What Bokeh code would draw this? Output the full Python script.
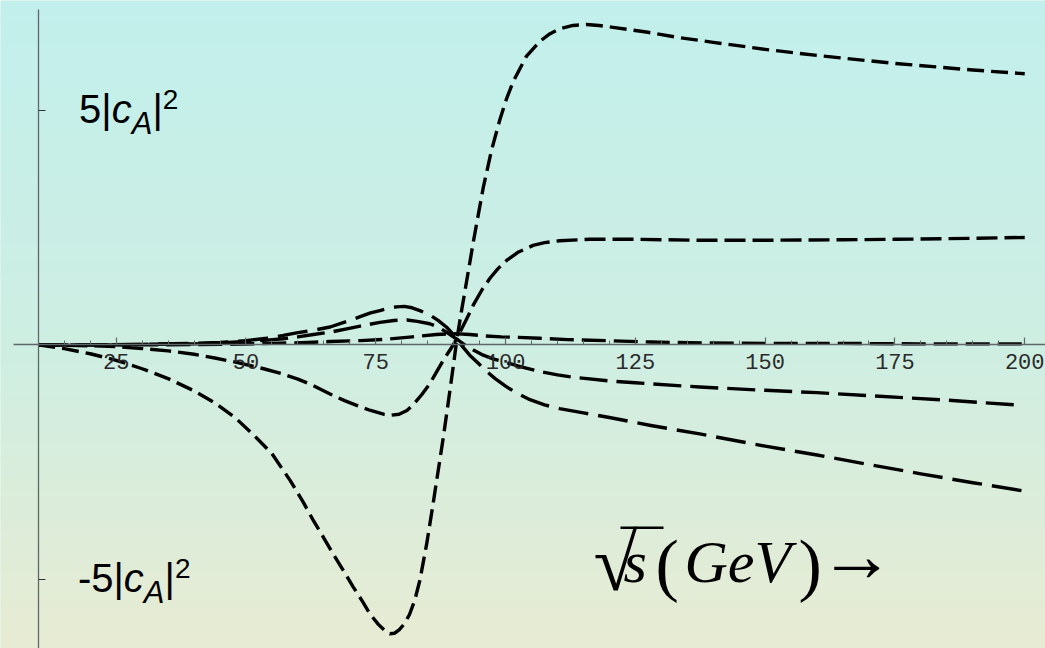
import numpy as np
from bokeh.plotting import figure
from bokeh.models import Range1d, LinearAxis, FixedTicker, Label, BoxAnnotation
from bokeh.embed import file_html
from bokeh.resources import INLINE

# ---------------------------------------------------------------------------
# Curves: value in units of |c_A|^2 against sqrt(s) in GeV
# ---------------------------------------------------------------------------
s_a = [10, 15, 20, 25, 30, 35, 40, 44, 48, 52, 55, 58.5, 61, 63, 65, 66.8, 68.8,
       70.7, 72.5, 73.9, 75.5, 76.8, 77.7, 78.6, 79.5, 80.5, 81.5, 82.5, 83.5,
       84.8, 86, 87, 88, 89, 90, 90.6, 91.4, 92.2, 93.8, 95.7, 97.3, 98.9, 100.2,
       101.5, 104, 106.6, 108.5, 110.4, 113, 115.6, 118, 120.7, 127.1, 132.9,
       140, 150, 160, 175, 190, 200]
v_a = [0, -0.08, -0.19, -0.33, -0.51, -0.72, -0.98, -1.24, -1.56, -1.98, -2.32,
       -2.89, -3.35, -3.75, -4.12, -4.46, -4.82, -5.17, -5.48, -5.74, -5.96,
       -6.1, -6.16, -6.15, -6.08, -5.95, -5.75, -5.45, -5.02, -4.25, -3.42,
       -2.7, -1.98, -1.2, -0.4, 0.1, 0.65, 1.16, 2.2, 3.35, 4.15, 4.8, 5.25,
       5.62, 6.15, 6.47, 6.63, 6.74, 6.81, 6.83, 6.81, 6.77, 6.67, 6.56, 6.45,
       6.3, 6.17, 6.0, 5.86, 5.78]

s_b = [10, 20, 25, 30, 35, 40, 44, 48, 53.4, 57, 60, 63, 66.2, 69, 71.3, 74,
       76.5, 78, 79.5, 81, 82.2, 83.8, 85.4, 86.8, 88, 89.3, 90.6, 91.5, 92.5,
       93.8, 95.5, 97, 98.5, 100.2, 102.5, 105.3, 107.5, 110.4, 116.2, 125,
       137, 150, 165, 175, 190, 200]
v_b = [0, -0.02, -0.04, -0.08, -0.13, -0.2, -0.28, -0.37, -0.51, -0.62, -0.73,
       -0.87, -1.05, -1.19, -1.29, -1.4, -1.48, -1.5, -1.48, -1.4, -1.28, -1.07,
       -0.83, -0.56, -0.33, -0.11, 0.12, 0.33, 0.55, 0.85, 1.18, 1.42, 1.62,
       1.8, 1.98, 2.12, 2.18, 2.22, 2.25, 2.25, 2.23, 2.23, 2.24, 2.25, 2.27,
       2.29]

s_c = [10, 20, 30, 40, 45, 50, 54, 57.2, 60, 63, 66.2, 69.4, 72, 74, 75.8, 77.5,
       79, 80.5, 82, 83.5, 85.4, 87, 88.6, 89.8, 90.6, 91.8, 93.1, 94.8, 96.3,
       98, 100, 102, 104.7, 107.5, 110.4, 115, 120, 128, 137.4, 150, 160, 169.4,
       180, 190, 199.5]
v_c = [0, 0, 0.01, 0.03, 0.05, 0.09, 0.14, 0.2, 0.26, 0.31, 0.38, 0.5, 0.6,
       0.68, 0.73, 0.78, 0.81, 0.82, 0.79, 0.73, 0.64, 0.52, 0.38, 0.24, 0.12,
       -0.05, -0.22, -0.4, -0.56, -0.72, -0.88, -1.02, -1.17, -1.28, -1.36,
       -1.45, -1.55, -1.72, -1.9, -2.16, -2.35, -2.54, -2.75, -2.94, -3.11]

s_d = [10, 20, 30, 40, 45, 50, 54, 57.2, 60, 63, 66.2, 69.4, 72, 75.8, 78.5, 81,
       83, 85.4, 87, 88.6, 89.8, 90.6, 92, 93.8, 95.7, 97.6, 100.2, 103, 106.6,
       110, 113, 120, 125, 137.4, 150, 160, 169.4, 185, 199.5]
v_d = [0, 0, 0.01, 0.02, 0.04, 0.07, 0.1, 0.13, 0.17, 0.22, 0.27, 0.34, 0.4,
       0.48, 0.52, 0.53, 0.5, 0.45, 0.38, 0.27, 0.18, 0.12, 0.01, -0.11, -0.22,
       -0.3, -0.38, -0.47, -0.57, -0.64, -0.69, -0.77, -0.81, -0.9, -0.97,
       -1.02, -1.08, -1.18, -1.29]

s_e = [10, 30, 45, 55, 62, 66.2, 72, 77.1, 82, 86.7, 90, 93.1, 96, 99.2, 102.5,
       106.6, 112, 119.4, 128, 138.7, 150, 165, 180, 200]
v_e = [0, 0, 0.01, 0.03, 0.05, 0.07, 0.09, 0.12, 0.17, 0.22, 0.24, 0.22, 0.19,
       0.17, 0.16, 0.14, 0.11, 0.09, 0.06, 0.04, 0.03, 0.03, 0.02, 0.02]

x_major_ticks = [25, 50, 75, 100, 125, 150, 175, 200]
x_minor_ticks = [10, 15, 20, 25, 30, 35, 40, 45, 50, 55, 60, 65, 70, 75, 80, 85,
                 90, 95, 100, 105, 110, 115, 120, 125, 130, 135, 140, 145, 150,
                 155, 160, 165, 170, 175, 180, 185, 190, 195, 200]
y_tick_values = [5, -5]
y_tick_coeffs = ["5|", "-5|"]

# ---------------------------------------------------------------------------
# Canvas geometry
# ---------------------------------------------------------------------------
W, H = 1045, 648
X0, X1 = 2.72, 204.0
Y0, Y1 = -6.475, 7.342
AXIS_X = 10          # the vertical axis crosses at sqrt(s) = 10

# distance from the alphabetic baseline to the middle of the text box, in em
MID_SANS = 0.3465
MID_SERIF = 0.3375


def px_x(px):
    return X0 + px * (X1 - X0) / W


def px_y(py):
    return Y1 - py * (Y1 - Y0) / H


p = figure(width=W, height=H, x_range=Range1d(X0, X1), y_range=Range1d(Y0, Y1),
           output_backend="svg", toolbar_location=None,
           x_axis_type=None, y_axis_type=None, min_border=0,
           outline_line_color=None)
p.background_fill_color = "#cdeee3"
p.border_fill_color = "#cdeee3"

# vertical colour wash: cyan at the top fading to pale beige at the bottom
stops = [(0.0, (194, 239, 236)), (0.53, (206, 238, 226)), (1.0, (232, 235, 211))]
n_strips = 162
fr = np.linspace(0, 1, n_strips + 1)
rgb = np.stack([np.interp(fr, [s[0] for s in stops], [s[1][k] for s in stops])
                for k in range(3)], axis=1)
tops = Y1 - fr[:-1] * (Y1 - Y0)
bots = Y1 - np.minimum(fr[1:] + 0.5 / n_strips, 1.0) * (Y1 - Y0)
cols = ["#%02x%02x%02x" % tuple(int(round(c)) for c in rgb[i]) for i in range(n_strips)]
bg = p.quad(left=X0, right=X1, top=tops, bottom=bots, fill_color=cols, line_color=None)
bg.level = "image"

# axes crossing at (10, 0)
axis_col = "#5f6868"
xaxis = LinearAxis(fixed_location=0,
                   ticker=FixedTicker(ticks=x_major_ticks, minor_ticks=x_minor_ticks),
                   bounds=(px_x(13), X1),
                   axis_line_color=axis_col, axis_line_width=1.3,
                   major_tick_in=7, major_tick_out=0, major_tick_line_color=axis_col,
                   major_tick_line_width=1.2,
                   minor_tick_in=4, minor_tick_out=0, minor_tick_line_color=axis_col,
                   minor_tick_line_width=1,
                   major_label_standoff=9,
                   major_label_text_font="Liberation Mono",
                   major_label_text_font_size="22px",
                   major_label_text_color="#2a2a2a")
p.add_layout(xaxis, "below")

yaxis = LinearAxis(fixed_location=AXIS_X,
                   ticker=FixedTicker(ticks=y_tick_values),
                   bounds=(Y0, px_y(9)),
                   axis_line_color=axis_col, axis_line_width=1.3,
                   major_tick_in=7, major_tick_out=0, major_tick_line_color="#303636",
                   major_tick_line_width=1.2,
                   minor_tick_line_color=None,
                   major_label_text_alpha=0)
p.add_layout(yaxis, "left")

# dashed curves
curves = [(s_a, v_a, "17 7"), (s_b, v_b, "21 7"), (s_c, v_c, "30 10"),
          (s_d, v_d, "28 9"), (s_e, v_e, "24 8")]
for sx, vy, dash in curves:
    p.line(sx, vy, line_color="black", line_width=3.4, line_dash=dash,
           line_cap="butt", line_join="round")

# y tick labels: k|c_A|^2 written to the right of the axis
adv = {"5": 0.556, "-": 0.333, "|": 0.26, "c": 0.5, "A": 0.667, "2": 0.556}
MAIN, SUB, SUP = 40, 31, 28
for val, coeff in zip(y_tick_values, y_tick_coeffs):
    x_start = 78.5 if not coeff.startswith("-") else 77.3
    # (text, size, style, baseline below the tick in px)
    pieces = [(coeff, MAIN, "normal", 13),
              ("c", MAIN, "italic", 13),
              ("A", SUB, "italic", 24),
              ("|", MAIN, "normal", 13),
              ("2", SUP, "normal", -1)]
    cur = x_start - 37.7
    for txt, size, style, drop in pieces:
        p.add_layout(Label(x=AXIS_X, y=val, x_offset=cur,
                           y_offset=-(drop - MID_SANS * size), text=txt,
                           text_font="Liberation Sans", text_font_size=f"{size}px",
                           text_font_style=style, text_color="black",
                           text_align="left", text_baseline="middle"))
        cur += sum(adv[ch] for ch in txt) * size

# axis title  sqrt(s) (GeV) ->   (text, left px, baseline px, size, style)
title_pieces = [("√", 593, 589, 80, "normal"),
                ("s", 623, 582, 60, "italic"),
                ("(", 655, 588, 70, "normal"),
                ("GeV", 684, 582, 60, "italic"),
                (")", 798, 588, 70, "normal"),
                ("→", 818, 580, 76, "normal")]
for txt, lx, by, size, style in title_pieces:
    p.add_layout(Label(x=px_x(lx), y=px_y(by - MID_SERIF * size), text=txt,
                       text_font="Liberation Serif", text_font_size=f"{size}px",
                       text_font_style=style, text_color="black",
                       text_align="left", text_baseline="middle"))
p.add_layout(BoxAnnotation(left=px_x(620), right=px_x(663), top=px_y(526),
                           bottom=px_y(528.5), fill_color="black", fill_alpha=1,
                           line_color=None))

open("out.html", "w").write(file_html(p, INLINE))
